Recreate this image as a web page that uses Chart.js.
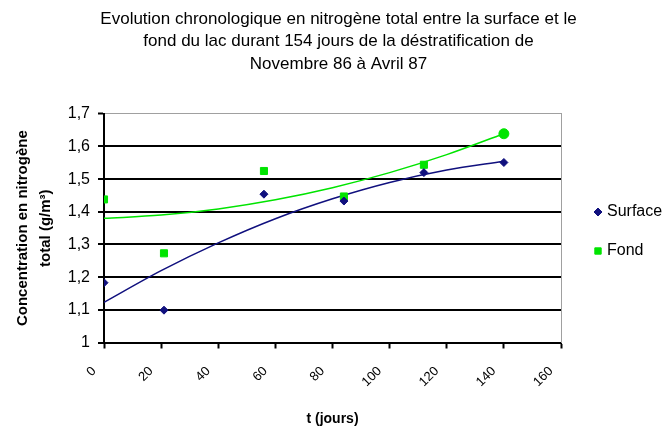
<!DOCTYPE html>
<html>
<head>
<meta charset="utf-8">
<script src="https://cdn.jsdelivr.net/npm/chart.js@4/dist/chart.umd.min.js"></script>
<style>
  html, body { margin: 0; padding: 0; background: #fff; }
  #wrap { position: relative; width: 665px; height: 429px; }
</style>
</head>
<body>
<div id="wrap"><canvas id="chart"></canvas></div>
<script>
// measured points (days since start, g/m3)
const jours = [0, 21, 56, 84, 112, 140];
const surface = [1.183, 1.099, 1.454, 1.433, 1.52, 1.551];
const fond = [1.438, 1.273, 1.525, 1.447, 1.544, 1.639];

// trend curves
const trendJours = [0, 20, 40, 60, 80, 100, 120, 140];
const trendSurface = [1.123, 1.220, 1.305, 1.379, 1.440, 1.490, 1.528, 1.555];
const trendFond = [1.380, 1.390, 1.409, 1.437, 1.474, 1.520, 1.575, 1.639];

const xTickLabels = ['0', '20', '40', '60', '80', '100', '120', '140', '160'];
const yTickLabels = ['1', '1,1', '1,2', '1,3', '1,4', '1,5', '1,6', '1,7'];

const FONT = "'Liberation Sans', Arial, sans-serif";
const BLUE = '#10107e';
const GREEN = '#00e400';

const toXY = (xs, ys) => xs.map((x, i) => ({ x: x, y: ys[i] }));

// legend on the right of the plot, like the original
const sideLegend = {
    id: 'sideLegend',
    afterDraw(chart) {
        const ctx = chart.ctx;
        const items = chart.data.datasets.filter(d => d.inLegend);
        ctx.save();
        ctx.font = '16px ' + FONT;
        ctx.textBaseline = 'middle';
        items.forEach((d, i) => {
            const y = 212 + i * 39;
            const style = Array.isArray(d.pointStyle) ? d.pointStyle[0] : d.pointStyle;
            ctx.fillStyle = d.backgroundColor;
            ctx.strokeStyle = d.borderColor;
            ctx.lineWidth = 1;
            Chart.helpers.drawPoint(ctx, { pointStyle: style, radius: d.legendRadius, borderWidth: 1 }, 598, y);
            ctx.fillStyle = '#000';
            ctx.fillText(d.label, 607, y);
        });
        ctx.restore();
    }
};

new Chart(document.getElementById('chart'), {
    type: 'scatter',
    data: {
        datasets: [
            {
                label: 'Surface',
                inLegend: true,
                legendRadius: 4,
                data: toXY(jours, surface),
                pointStyle: 'rectRot',
                pointRadius: 4,
                backgroundColor: BLUE,
                borderColor: BLUE,
                borderWidth: 1
            },
            {
                label: 'Fond',
                inLegend: true,
                legendRadius: 4.5,
                data: toXY(jours, fond),
                pointStyle: ['rect', 'rect', 'rect', 'rect', 'rect', 'circle'],
                pointRadius: 5,
                backgroundColor: GREEN,
                borderColor: GREEN,
                borderWidth: 1
            },
            {
                label: 'Tendance surface',
                data: toXY(trendJours, trendSurface),
                showLine: true,
                pointRadius: 0,
                borderColor: BLUE,
                borderWidth: 1.5,
                cubicInterpolationMode: 'monotone'
            },
            {
                label: 'Tendance fond',
                data: toXY(trendJours, trendFond),
                showLine: true,
                pointRadius: 0,
                borderColor: GREEN,
                borderWidth: 1.5,
                cubicInterpolationMode: 'monotone'
            }
        ]
    },
    options: {
        responsive: true,
        maintainAspectRatio: false,
        animation: false,
        layout: { padding: { left: 12, right: 0, top: 8, bottom: 0 } },
        plugins: {
            legend: { display: false },
            tooltip: { enabled: false },
            title: {
                display: true,
                text: [
                    'Evolution chronologique en nitrogène total entre la surface et le',
                    'fond du lac durant 154 jours de la déstratification de',
                    'Novembre 86 à Avril 87'
                ],
                color: '#000',
                font: { family: FONT, size: 17, weight: 'normal', lineHeight: 1.32 },
                padding: { top: 0, bottom: 38.5 }
            }
        },
        scales: {
            x: {
                type: 'linear',
                min: 0,
                max: 160,
                afterFit: s => { s.height = 86.5; },
                border: { color: '#000', width: 2 },
                grid: {
                    drawOnChartArea: false,
                    tickColor: '#000',
                    tickWidth: 2,
                    tickLength: 6
                },
                ticks: {
                    stepSize: 20,
                    minRotation: 45,
                    maxRotation: 45,
                    padding: 15,
                    labelOffset: -10,
                    color: '#000',
                    font: { family: FONT, size: 13 },
                    callback: (v, i) => xTickLabels[i]
                },
                title: {
                    display: true,
                    text: 't (jours)',
                    color: '#000',
                    font: { family: FONT, size: 14, weight: 'bold', lineHeight: 1.2 },
                    padding: { top: 0, bottom: 1.5 }
                }
            },
            y: {
                min: 1,
                max: 1.7,
                afterFit: s => { s.width = 92; },
                border: { color: '#000', width: 2 },
                grid: {
                    color: c => (c.tick && c.tick.value > 1.69) ? '#a0a0a0' : '#000',
                    lineWidth: c => (c.tick && c.tick.value > 1.69) ? 1 : 2,
                    tickColor: '#000',
                    tickWidth: 2,
                    tickLength: 6
                },
                ticks: {
                    stepSize: 0.1,
                    padding: 8,
                    color: '#000',
                    font: { family: FONT, size: 16 },
                    callback: (v, i) => yTickLabels[i]
                },
                title: {
                    display: true,
                    text: ['Concentration en nitrogène', 'total (g/m³)'],
                    color: '#000',
                    font: { family: FONT, size: 15, weight: 'bold', lineHeight: 1.5 },
                    padding: { top: 0, bottom: 0 }
                }
            },
            // right edge of the plot frame; its width leaves room for the legend
            yRight: {
                position: 'right',
                min: 1,
                max: 1.7,
                afterFit: s => { s.width = 104; },
                border: { display: true, color: '#a0a0a0', width: 1 },
                grid: { drawOnChartArea: false, drawTicks: false },
                ticks: { display: false }
            }
        }
    },
    plugins: [sideLegend]
});
</script>
</body>
</html>
